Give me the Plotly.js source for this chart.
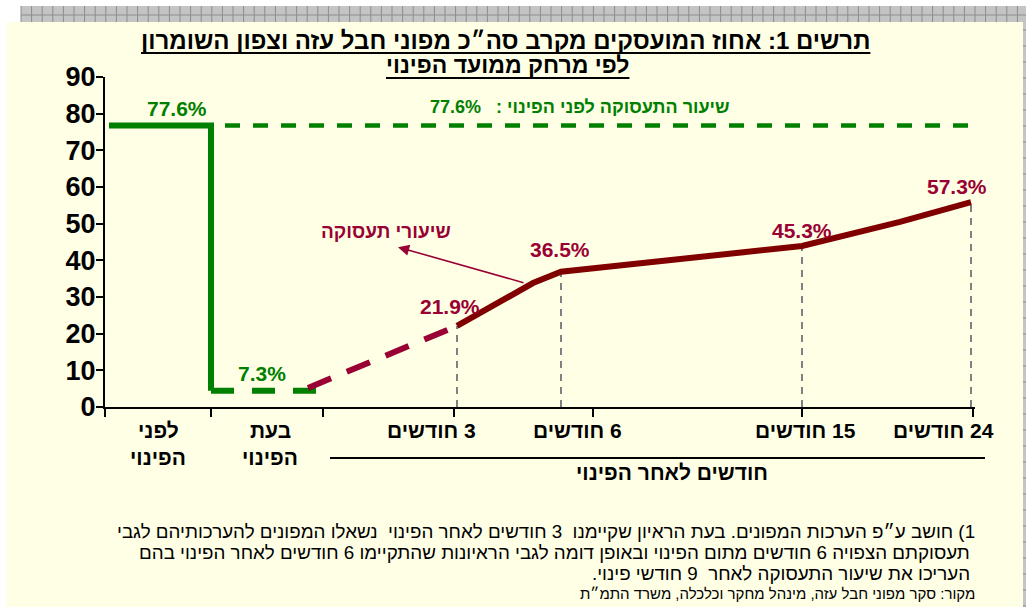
<!DOCTYPE html>
<html><head><meta charset="utf-8">
<script src="https://cdn.plot.ly/plotly-3.0.1.min.js"></script>
<style>html,body{margin:0;padding:0;background:#fff}</style>
</head><body><div id="chart" style="width:1026px;height:607px"></div>
<script>
const RLM = '\u200F';
const rtl = s => RLM + s + RLM;

// ---- texts ----
const titleLines = ['תרשים 1: אחוז המועסקים מקרב סה״כ מפוני חבל עזה וצפון השומרון', 'לפי מרחק ממועד הפינוי'];
const phaseLabels = [['לפני', 'הפינוי'], ['בעת', 'הפינוי']];
const monthLabels = ['3 חודשים', '6 חודשים', '15 חודשים', '24 חודשים'];
const monthsGroupLabel = 'חודשים לאחר הפינוי';
const seriesLabel = 'שיעורי תעסוקה';
const baselineLabel = 'שיעור התעסוקה לפני הפינוי :   77.6%';
const footnotes = [
  '1) חושב ע״פ הערכות המפונים. בעת הראיון שקיימנו  3 חודשים לאחר הפינוי  נשאלו המפונים להערכותיהם לגבי',
  'תעסוקתם הצפויה 6 חודשים מתום הפינוי ובאופן דומה לגבי הראיונות שהתקיימו 6 חודשים לאחר הפינוי בהם',
  'העריכו את שיעור התעסוקה לאחר  9 חודשי פינוי.',
  'מקור: סקר מפוני חבל עזה, מינהל מחקר וכלכלה, משרד התמ״ת'
];

// ---- values ----
const reportedBefore = 77.6, reportedDuring = 7.3;
const reportedMonths = [21.9, 36.5, 45.3, 57.3];
// levels as drawn in the picture
const drawnBefore = 76.8, drawnDuring = 4.4;
const drawnMonths = [22.1, 36.9, 43.9, 55.9];
// traced vertices of the employment curve (from 3 months on)
const curveX = [3.52, 4.28, 4.56, 6.97, 7.95, 8.66];
const curveY = [22.1, 33.8, 36.9, 43.9, 50.5, 55.9];
// estimated part (dashed) from evacuation to 3 months
const estX = [2.03, 3.52];
const estY = [5.2, 22.1];

// ---- category positions on the x axis ----
const phaseEdges = [0, 1.06, 2.18];
const phaseEnd = [0.04, 1.06, 2.11];
const monthTicks = [3.49, 4.88, 6.97, 8.68];
const monthPoints = [3.52, 4.56, 6.97, 8.66];
const baselineStart = 1.2, xMax = 8.7;

// ---- geometry helpers (pixel -> paper) ----
const PL = 105, PR = 975, PT = 77, PB = 407;
const px = x => (x - PL) / (PR - PL);
const py = y => (PB - y) / (PB - PT);

const GREEN = '#008000', MAROON = '#800000', WINE = '#990033';
const FONT = 'Liberation Sans, Arial, sans-serif';

const traces = [];
monthPoints.forEach((x, i) => traces.push({
  x: [x, x], y: [0, drawnMonths[i]], mode: 'lines',
  line: {color: '#808080', width: 2, dash: '7px,6px'}
}));
traces.push({x: [baselineStart, xMax], y: [drawnBefore, drawnBefore], mode: 'lines',
  line: {color: GREEN, width: 4.5, dash: '15px,13px'}});
traces.push({x: [phaseEnd[0], phaseEnd[1], phaseEnd[1]], y: [drawnBefore, drawnBefore, drawnDuring],
  mode: 'lines', line: {color: GREEN, width: 6}});
traces.push({x: [phaseEnd[1], phaseEnd[2]], y: [drawnDuring, drawnDuring], mode: 'lines',
  line: {color: GREEN, width: 6, dash: '23px,18px'}});
traces.push({x: estX, y: estY, mode: 'lines', line: {color: WINE, width: 6, dash: '25px,17px'}});
traces.push({x: curveX, y: curveY, mode: 'lines', line: {color: MAROON, width: 6}});

const ann = [];
const T = (text, x, y, size, color, opts) => ann.push(Object.assign({
  text, x: px(x), y: py(y), xref: 'paper', yref: 'paper', showarrow: false,
  xanchor: 'center', yanchor: 'middle', font: {family: FONT, size, color}
}, opts || {}));

// titles (indices 0 and 1, used for underline measurement)
T('<b>' + rtl(titleLines[0]) + '</b>', 505, 40, 24, '#000');
T('<b>' + rtl(titleLines[1]) + '</b>', 507, 65, 23, '#000');
// value labels
T('<b>' + reportedBefore + '%</b>', 177, 108, 21, GREEN);
T('<b>' + reportedDuring + '%</b>', 262, 373, 21, GREEN);
const monthLabelPos = [[450, 306], [560, 250], [802, 230], [957, 186]];
reportedMonths.forEach((v, i) => T('<b>' + v + '%</b>', monthLabelPos[i][0], monthLabelPos[i][1], 21, WINE));
T('<b>' + rtl(baselineLabel) + '</b>', 580, 107, 18, GREEN);
T('<b>' + rtl(seriesLabel) + '</b>', 386, 231, 19, WINE);
ann.push({x: 2.93, y: 43.6, xref: 'x', yref: 'y', ax: 4.20, ay: 33.8, axref: 'x', ayref: 'y',
  text: '', showarrow: true, arrowhead: 2, arrowsize: 1.4, arrowwidth: 1.6, arrowcolor: WINE});
// x category labels
const phaseCenters = [158, 270];
phaseLabels.forEach((pair, i) => {
  T('<b>' + rtl(pair[0]) + '</b>', phaseCenters[i], 430, 21, '#000');
  T('<b>' + rtl(pair[1]) + '</b>', phaseCenters[i], 457, 21, '#000');
});
const monthCenters = [431, 577, 805, 943];
monthLabels.forEach((m, i) => T('<b>' + rtl(m) + '</b>', monthCenters[i], 430, 21, '#000'));
T('<b>' + rtl(monthsGroupLabel) + '</b>', 672, 472, 21, '#000');
// footnotes
const fnRight = [977, 972, 972, 977];
const fnY = [531, 552, 573, 593];
const fnSize = [18.8, 18.8, 18.8, 15];
footnotes.forEach((f, i) => T(rtl(f), fnRight[i], fnY[i], fnSize[i], '#000', {xanchor: 'right'}));

const shapes = [];
shapes.push({type: 'rect', xref: 'paper', yref: 'paper', x0: px(6), x1: px(1023), y0: py(607), y1: py(22),
  fillcolor: '#FFFFE6', line: {width: 0}, layer: 'below'});
shapes.push({type: 'rect', xref: 'paper', yref: 'paper', x0: px(21), x1: px(1026), y0: py(22), y1: py(6),
  fillcolor: '#C4C4C4', line: {width: 0}, layer: 'below'});
shapes.push({type: 'rect', xref: 'paper', yref: 'paper', x0: px(1023), x1: px(1026), y0: py(607), y1: py(22),
  fillcolor: '#C4C4C4', line: {width: 0}, layer: 'below'});
let grid = '';
for (let gx = 21; gx <= 1026; gx += 10.6) grid += 'M' + px(gx) + ',' + py(6) + 'L' + px(gx) + ',' + py(22);
grid += 'M' + px(21) + ',' + py(15) + 'L' + px(1026) + ',' + py(15);
for (let gy = 30; gy <= 607; gy += 16) grid += 'M' + px(1023) + ',' + py(gy) + 'L' + px(1026) + ',' + py(gy);
shapes.push({type: 'path', xref: 'paper', yref: 'paper', path: grid, line: {color: '#8C8C8C', width: 1}, layer: 'below'});
shapes.push({type: 'line', xref: 'paper', yref: 'paper', x0: px(330), x1: px(985), y0: py(458), y1: py(458), line: {color: '#000', width: 2}});

const layout = {
  width: 1026, height: 607,
  margin: {l: PL, r: 1026 - PR, t: PT, b: 607 - PB, pad: 0},
  paper_bgcolor: '#FFFFFF', plot_bgcolor: 'rgba(0,0,0,0)',
  showlegend: false,
  xaxis: {range: [0, xMax], showgrid: false, zeroline: false, showline: true, linecolor: '#000', linewidth: 2,
    ticks: 'outside', ticklen: 8, tickwidth: 2, tickcolor: '#000',
    tickvals: phaseEdges.concat(monthTicks), showticklabels: false, fixedrange: true},
  yaxis: {range: [0, 90], showgrid: false, zeroline: false, showline: true, linecolor: '#000', linewidth: 2,
    ticks: 'outside', ticklen: 7, tickwidth: 2, tickcolor: '#000', tickvals: [0,10,20,30,40,50,60,70,80,90],
    ticklabelstandoff: -5,
    tickfont: {family: FONT, size: 27, color: '#000', weight: 'bold'}, fixedrange: true},
  annotations: ann, shapes: shapes
};
Plotly.newPlot('chart', traces.map(t => Object.assign({hoverinfo: 'skip'}, t)), layout, {displayModeBar: false, staticPlot: true})
.then(gd => {
  // underline the two title lines to the measured width of their text
  const groups = gd.querySelectorAll('.annotation');
  const under = [53, 78];
  const extra = [];
  [0, 1].forEach(i => {
    const t = groups[i] && groups[i].querySelector('text');
    if (!t) return;
    const r = t.getBoundingClientRect();
    const g = gd.getBoundingClientRect();
    const x0 = r.left - g.left, x1 = r.right - g.left;
    extra.push({type: 'line', xref: 'paper', yref: 'paper', x0: px(x0), x1: px(x1), y0: py(under[i]), y1: py(under[i]), line: {color: '#000', width: 2}});
  });
  return Plotly.relayout(gd, {shapes: shapes.concat(extra)});
});
</script></body></html>
